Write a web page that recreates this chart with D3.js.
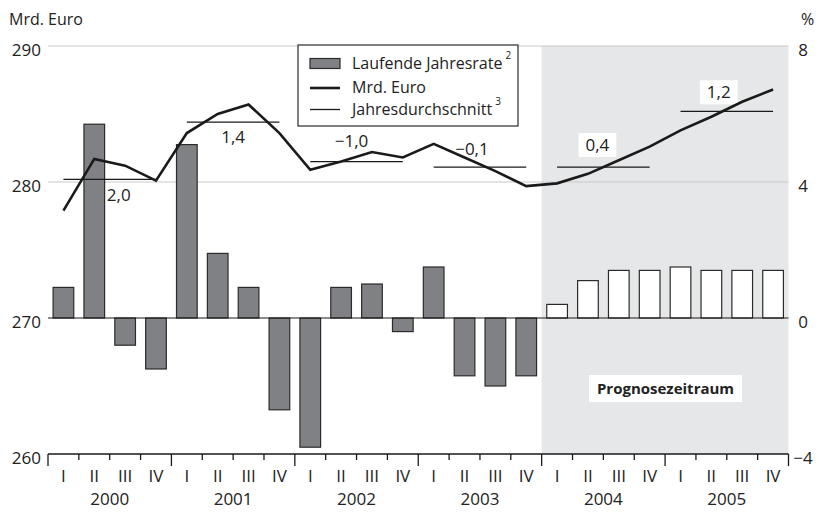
<!DOCTYPE html>
<html>
<head>
<meta charset="utf-8">
<script src="https://cdn.jsdelivr.net/npm/d3@7"></script>
<style>
  body { margin: 0; background: #fff; }
  svg { display: block; font-family: "Open Sans", "Noto Sans", sans-serif; }
</style>
</head>
<body>
<svg id="chart" width="819" height="512"></svg>
<script>
// ---- data ----
const years = ["2000", "2001", "2002", "2003", "2004", "2005"];
const quarterNames = ["I", "II", "III", "IV"];
// Laufende Jahresrate (%), right axis
const rate = [0.9, 5.7, -0.8, -1.5,  5.1, 1.9, 0.9, -2.7,  -3.8, 0.9, 1.0, -0.4,
              1.5, -1.7, -2.0, -1.7,  0.4, 1.1, 1.4, 1.4,  1.5, 1.4, 1.4, 1.4];
// Mrd. Euro level, left axis
const level = [277.9, 281.7, 281.2, 280.1,  283.6, 285.0, 285.7, 283.6,
               280.9, 281.5, 282.2, 281.8,  282.8, 281.8, 280.8, 279.7,
               279.9, 280.6, 281.6, 282.6,  283.8, 284.8, 285.9, 286.8];
// Jahresdurchschnitt (Mrd. Euro) and its label (%)
const yearAvg = [280.2, 284.4, 281.5, 281.1, 281.1, 285.2];
const yearAvgLabel = ["2,0", "1,4", "\u22121,0", "\u22120,1", "0,4", "1,2"];
const forecastFrom = "2004";
const leftTicks = [260, 270, 280, 290];
const rightTicks = [-4, 0, 4, 8];

// ---- layout ----
const X0 = 48, X1 = 788.5, YT = 46, YB = 454;
const labelDx = [9, 0, -5, -8, -6, -8];
const labelDy = [16, 15, -21, -18, -22, -19];

const svg = d3.select("#chart");
const quarters = d3.range(years.length * 4);

const x = d3.scaleBand().domain(quarters).range([X0, X1]).paddingInner(0.33).paddingOuter(0.165);
const xYear = d3.scaleBand().domain(years).range([X0, X1]);
const yL = d3.scaleLinear().domain([260, 290]).range([YB, YT]);
const yR = d3.scaleLinear().domain([-4, 8]).range([YB, YT]);
const qc = i => x(i) + x.bandwidth() / 2;
const fIdx = years.indexOf(forecastFrom) * 4;

// forecast shading
svg.append("rect")
  .attr("x", xYear(forecastFrom)).attr("y", YT)
  .attr("width", X1 - xYear(forecastFrom)).attr("height", YB - YT)
  .attr("fill", "#e6e7e8");

// gridlines
svg.append("g").selectAll("line").data([280, 290]).join("line")
  .attr("x1", X0).attr("x2", X1)
  .attr("y1", d => yL(d)).attr("y2", d => yL(d))
  .attr("stroke", "#c9c9c9").attr("stroke-width", 1);

const avgData = years.map((yr, k) => ({
  k, v: yearAvg[k], label: yearAvgLabel[k],
  x1: qc(k * 4), x2: qc(k * 4 + 3),
  cx: xYear(yr) + xYear.bandwidth() / 2 + labelDx[k],
  cy: yL(yearAvg[k]) + labelDy[k]
}));

// value label background boxes (measured from a temporary text)
const bgG = svg.append("g");
avgData.forEach(d => {
  const t = svg.append("text").attr("font-size", 17).text(d.label);
  const w = t.node().getComputedTextLength();
  t.remove();
  bgG.append("rect")
    .attr("x", d.cx - w / 2 - 7).attr("y", d.cy - 12)
    .attr("width", w + 14).attr("height", 24)
    .attr("fill", "#fff");
});

// bars
svg.append("g").selectAll("rect").data(quarters).join("rect")
  .attr("x", i => x(i))
  .attr("y", i => yR(Math.max(0, rate[i])))
  .attr("width", x.bandwidth())
  .attr("height", i => Math.abs(yR(rate[i]) - yR(0)))
  .attr("fill", i => i >= fIdx ? "#ffffff" : "#808184")
  .attr("stroke", "#2b2b2b").attr("stroke-width", 1.2);

// zero line
svg.append("line")
  .attr("x1", X0).attr("x2", X1).attr("y1", yR(0)).attr("y2", yR(0))
  .attr("stroke", "#1a1a1a").attr("stroke-width", 1.2);

// year average lines
svg.append("g").selectAll("line").data(avgData).join("line")
  .attr("x1", d => d.x1).attr("x2", d => d.x2)
  .attr("y1", d => yL(d.v)).attr("y2", d => yL(d.v))
  .attr("stroke", "#1a1a1a").attr("stroke-width", 1.3);

// level line
svg.append("path")
  .datum(quarters)
  .attr("d", d3.line().x(i => qc(i)).y(i => yL(level[i])))
  .attr("fill", "none").attr("stroke", "#1a1a1a").attr("stroke-width", 2.6)
  .attr("stroke-linejoin", "miter");

// label texts
svg.append("g").selectAll("text").data(avgData).join("text")
  .attr("x", d => d.cx).attr("y", d => d.cy + 6)
  .attr("text-anchor", "middle").attr("font-size", 17).attr("fill", "#222")
  .text(d => d.label);

// x axis
const ax = svg.append("g");
ax.append("line").attr("x1", X0).attr("x2", X1).attr("y1", YB).attr("y2", YB)
  .attr("stroke", "#1a1a1a").attr("stroke-width", 1.3);
const bounds = d3.range(quarters.length + 1);
ax.selectAll("line.tk").data(bounds).join("line").attr("class", "tk")
  .attr("x1", b => X0 + b * x.step()).attr("x2", b => X0 + b * x.step())
  .attr("y1", YB).attr("y2", b => YB + (b % 4 === 0 ? 12 : 6))
  .attr("stroke", "#1a1a1a").attr("stroke-width", 1.3);
ax.selectAll("text.q").data(quarters).join("text").attr("class", "q")
  .attr("x", i => qc(i)).attr("y", 482)
  .attr("text-anchor", "middle").attr("font-size", 17).attr("fill", "#222")
  .text(i => quarterNames[i % 4]);
ax.selectAll("text.yr").data(years).join("text").attr("class", "yr")
  .attr("x", d => xYear(d) + xYear.bandwidth() / 2).attr("y", 505)
  .attr("text-anchor", "middle").attr("font-size", 17).attr("fill", "#222")
  .text(d => d);

// left axis labels
svg.append("g").selectAll("text").data(leftTicks).join("text")
  .attr("x", 41).attr("y", d => yL(d) + 9.5)
  .attr("text-anchor", "end").attr("font-size", 17).attr("fill", "#222")
  .text(d => d);
// right axis labels
svg.append("g").selectAll("text").data(rightTicks).join("text")
  .attr("x", 803).attr("y", d => yR(d) + 9.5)
  .attr("text-anchor", "middle").attr("font-size", 17).attr("fill", "#222")
  .text(d => d < 0 ? "\u2212" + Math.abs(d) : d);

svg.append("text").attr("x", 9).attr("y", 25).attr("font-size", 16).attr("fill", "#222").text("Mrd. Euro");
svg.append("text").attr("x", 801).attr("y", 25).attr("font-size", 16).attr("fill", "#222").text("%");

// Prognosezeitraum
const pg = svg.append("g");
pg.append("rect").attr("x", 589).attr("y", 375).attr("width", 153).attr("height", 27).attr("fill", "#fff");
pg.append("text").attr("x", 665.5).attr("y", 393.5).attr("text-anchor", "middle")
  .attr("font-size", 15).attr("font-weight", "bold").attr("fill", "#222").text("Prognosezeitraum");

// legend
const lg = svg.append("g");
lg.append("rect").attr("x", 298).attr("y", 45).attr("width", 220).attr("height", 81)
  .attr("fill", "#fff").attr("stroke", "#2b2b2b").attr("stroke-width", 1.2);
lg.append("rect").attr("x", 310).attr("y", 58.5).attr("width", 30).attr("height", 10)
  .attr("fill", "#808184").attr("stroke", "#2b2b2b").attr("stroke-width", 1.2);
lg.append("line").attr("x1", 310).attr("x2", 340).attr("y1", 88).attr("y2", 88)
  .attr("stroke", "#1a1a1a").attr("stroke-width", 2.6);
lg.append("line").attr("x1", 310).attr("x2", 340).attr("y1", 109.5).attr("y2", 109.5)
  .attr("stroke", "#1a1a1a").attr("stroke-width", 1.3);
const legItems = [
  { t: "Laufende Jahresrate", sup: "2", y: 68.5 },
  { t: "Mrd. Euro", sup: null, y: 93 },
  { t: "Jahresdurchschnitt", sup: "3", y: 114.5 }
];
legItems.forEach(it => {
  const t = lg.append("text").attr("x", 352).attr("y", it.y).attr("font-size", 16).attr("fill", "#222");
  t.append("tspan").text(it.t);
  if (it.sup) t.append("tspan").attr("font-size", 10).attr("dx", 3).attr("dy", -10).text(it.sup);
});
</script>
</body>
</html>
